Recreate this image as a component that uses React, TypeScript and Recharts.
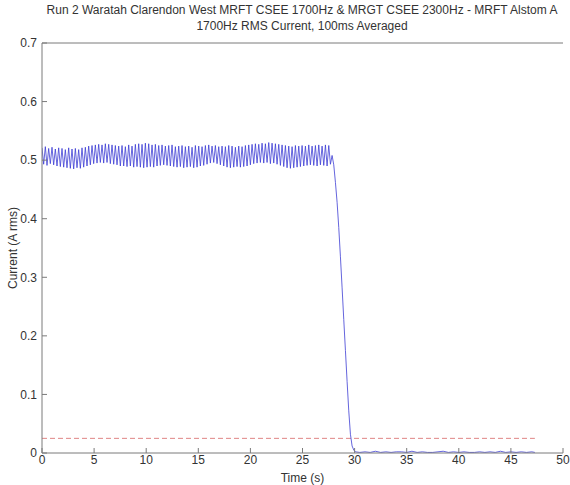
import { LineChart, Line, XAxis, YAxis } from "recharts";

// sampled RMS current, 0.16 s apart starting at t = 0
const OSC_STEP = 0.16;
const oscValues = [
  0.521, 0.493, 0.523, 0.491, 0.52, 0.494, 0.522, 0.492, 0.519, 0.49, 0.521, 0.489,
  0.52, 0.488, 0.518, 0.487, 0.521, 0.486, 0.519, 0.485, 0.52, 0.487, 0.518, 0.486,
  0.521, 0.488, 0.522, 0.49, 0.524, 0.492, 0.525, 0.494, 0.526, 0.495, 0.527, 0.496,
  0.526, 0.495, 0.528, 0.496, 0.527, 0.494, 0.526, 0.493, 0.525, 0.492, 0.524, 0.49,
  0.525, 0.49, 0.523, 0.489, 0.526, 0.49, 0.524, 0.488, 0.527, 0.489, 0.528, 0.488,
  0.527, 0.487, 0.529, 0.488, 0.528, 0.489, 0.526, 0.488, 0.527, 0.49, 0.525, 0.491,
  0.526, 0.492, 0.524, 0.491, 0.525, 0.49, 0.526, 0.489, 0.523, 0.488, 0.524, 0.489,
  0.525, 0.487, 0.523, 0.488, 0.524, 0.489, 0.522, 0.487, 0.525, 0.488, 0.524, 0.49,
  0.523, 0.491, 0.525, 0.493, 0.526, 0.495, 0.524, 0.496, 0.525, 0.494, 0.523, 0.492,
  0.524, 0.49, 0.523, 0.488, 0.525, 0.487, 0.524, 0.488, 0.522, 0.489, 0.524, 0.488,
  0.523, 0.489, 0.525, 0.49, 0.526, 0.492, 0.527, 0.494, 0.528, 0.495, 0.527, 0.496,
  0.529, 0.495, 0.528, 0.496, 0.53, 0.494, 0.529, 0.495, 0.528, 0.493, 0.527, 0.491,
  0.526, 0.489, 0.525, 0.487, 0.524, 0.486, 0.523, 0.487, 0.525, 0.488, 0.524, 0.489,
  0.525, 0.49, 0.524, 0.491, 0.526, 0.492, 0.524, 0.491, 0.525, 0.49, 0.526, 0.492,
  0.524, 0.491, 0.526, 0.49, 0.525, 0.493,
];

// the fall-off when the track circuit is shunted
const dropTimes = [
  27.84, 28.0, 28.16, 28.32, 28.48, 28.64, 28.8, 28.96, 29.12, 29.28, 29.44, 29.6,
  29.76, 29.92, 30.08,
];
const dropValues = [
  0.508, 0.492, 0.462, 0.428, 0.385, 0.335, 0.282, 0.228, 0.175, 0.122, 0.072, 0.032,
  0.012, 0.005, 0.002,
];

const tailTimes = [
  30.5, 31, 31.5, 32, 32.5, 33, 33.5, 34, 34.5, 35, 35.5, 36, 36.5, 37, 37.5, 38, 38.5,
  39, 39.5, 40, 40.5, 41, 41.5, 42, 42.5, 43, 43.5, 44, 44.5, 45, 45.5, 46, 46.5, 47, 47.3,
];
const tailValues = [
  0.001, 0.002, 0.001, 0.003, 0.001, 0.002, 0.001, 0.002, 0.002, 0.001, 0.003, 0.001,
  0.002, 0.001, 0.001, 0.002, 0.003, 0.001, 0.002, 0.001, 0.002, 0.001, 0.001, 0.002,
  0.001, 0.002, 0.001, 0.003, 0.001, 0.002, 0.001, 0.002, 0.001, 0.002, 0.001,
];

const thresholdTimes = [0, 47.3];
const thresholdValues = [0.025, 0.025];

const xTicks = [0, 5, 10, 15, 20, 25, 30, 35, 40, 45, 50];
const yTicks = [0, 0.1, 0.2, 0.3, 0.4, 0.5, 0.6, 0.7];

const TITLE_1 = "Run 2 Waratah Clarendon West MRFT CSEE 1700Hz & MRGT CSEE 2300Hz - MRFT Alstom A";
const TITLE_2 = "1700Hz RMS Current, 100ms Averaged";

const currentData = [
  ...oscValues.map((v, i) => ({ t: +(i * OSC_STEP).toFixed(2), v })),
  ...dropTimes.map((t, i) => ({ t, v: dropValues[i] })),
  ...tailTimes.map((t, i) => ({ t, v: tailValues[i] })),
];
const thresholdData = thresholdTimes.map((t, i) => ({ t, v: thresholdValues[i] }));

const FONT = "'Liberation Sans', Arial, sans-serif";
const AXIS = "#7a7a7a";
const TEXT = "#333";

export default function App() {
  return (
    <div
      style={{
        position: "fixed",
        left: 0,
        top: 0,
        width: 570,
        height: 485,
        background: "#fff",
        fontFamily: FONT,
      }}
    >
      <div
        style={{
          position: "absolute",
          left: 0,
          width: 604,
          top: 2,
          textAlign: "center",
          fontSize: 12,
          lineHeight: "16px",
          color: TEXT,
          whiteSpace: "nowrap",
        }}
      >
        <div>{TITLE_1}</div>
        <div>{TITLE_2}</div>
      </div>
      <div
        style={{
          position: "absolute",
          left: 13,
          top: 248,
          transform: "translate(-50%, -50%) rotate(-90deg)",
          fontSize: 12,
          color: TEXT,
          whiteSpace: "nowrap",
        }}
      >
        Current (A rms)
      </div>
      <LineChart
        width={570}
        height={485}
        margin={{ top: 0, right: 7, bottom: 0, left: 0 }}
        style={{ position: "absolute", left: 0, top: 0 }}
      >
        <XAxis
          xAxisId="bottom"
          dataKey="t"
          type="number"
          domain={[0, 50]}
          ticks={xTicks}
          allowDataOverflow
          height={32}
          stroke={AXIS}
          tickSize={-5}
          tickMargin={7}
          tick={{ fontSize: 12, fill: TEXT, fontFamily: FONT }}
          label={{
            value: "Time (s)",
            position: "insideBottom",
            offset: 3,
            fontSize: 12,
            fill: TEXT,
            fontFamily: FONT,
          }}
        />
        <XAxis
          xAxisId="top"
          orientation="top"
          dataKey="t"
          type="number"
          domain={[0, 50]}
          ticks={xTicks}
          height={43}
          stroke={AXIS}
          tickSize={-5}
          tickFormatter={() => ""}
        />
        <YAxis
          yAxisId="left"
          type="number"
          domain={[0, 0.7]}
          ticks={yTicks}
          width={42}
          stroke={AXIS}
          tickSize={-5}
          tickMargin={10}
          tick={{ fontSize: 12, fill: TEXT, fontFamily: FONT }}
        />
        <YAxis
          yAxisId="right"
          orientation="right"
          type="number"
          domain={[0, 0.7]}
          ticks={yTicks}
          width={0}
          stroke={AXIS}
          tickSize={-5}
          tickFormatter={() => ""}
        />
        <Line
          xAxisId="bottom"
          yAxisId="left"
          data={thresholdData}
          dataKey="v"
          stroke="#e08585"
          strokeWidth={1}
          strokeDasharray="5 3"
          dot={false}
          isAnimationActive={false}
        />
        <Line
          xAxisId="bottom"
          yAxisId="left"
          data={currentData}
          dataKey="v"
          type="linear"
          stroke="#3d3dd4"
          strokeWidth={0.8}
          dot={false}
          isAnimationActive={false}
        />
      </LineChart>
    </div>
  );
}
